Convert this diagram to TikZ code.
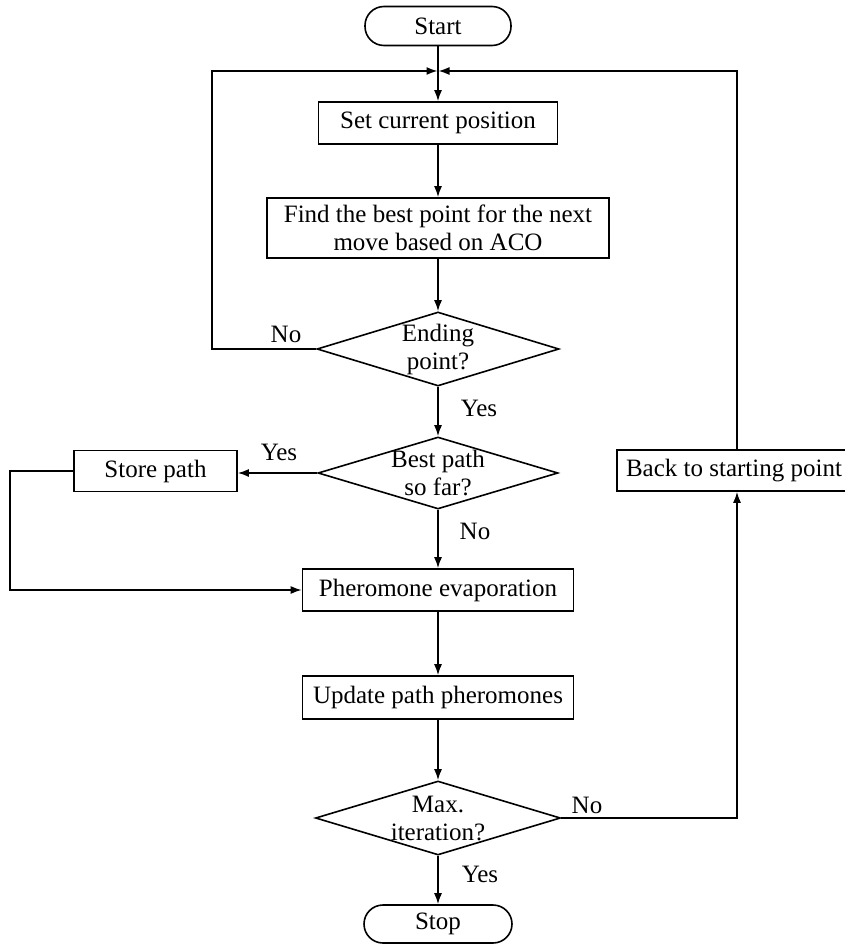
\documentclass[tikz,border=0pt]{standalone}
\usepackage{fontspec}
\setmainfont{Liberation Serif}
\usetikzlibrary{shapes.geometric,arrows.meta}
\begin{document}
\begin{tikzpicture}[x=1pt,y=-1pt,
  every node/.style={font=\fontsize{25}{28}\selectfont},
  arr/.style={line width=1.6pt,-{Latex[length=11pt,width=8pt]}},
  proc/.style={draw,line width=1.6pt,rectangle,inner sep=0pt,align=center},
  term/.style={draw,line width=1.6pt,rectangle,rounded corners=19pt,inner sep=0pt},
  dec/.style={draw,line width=1.6pt,diamond,inner sep=0pt},
  lbl/.style={inner sep=0pt}]
\useasboundingbox (0,0) rectangle (845,944);
\node[term,minimum width=146pt,minimum height=39pt] (start) at (438,26) {Start};
\coordinate (m) at (438,71);
\node[proc,minimum width=239pt,minimum height=42pt] (set) at (438,123) {Set current position};
\node[proc,minimum width=342pt,minimum height=60pt] (find) at (438,228) {Find the best point for the next\\move based on ACO};
\node[dec,minimum width=242pt,minimum height=74pt,label={[align=center]center:{Ending\\point?}}] (endp) at (438,349) {};
\node[dec,minimum width=240pt,minimum height=72pt,label={[align=center]center:{Best path\\so far?}}] (best) at (438,473) {};
\node[proc,minimum width=163pt,minimum height=41pt] (store) at (155.5,471) {Store path};
\node[proc,minimum width=271pt,minimum height=42pt] (pher) at (438,590) {Pheromone evaporation};
\node[proc,minimum width=271pt,minimum height=43pt] (upd) at (438,697.5) {Update path pheromones};
\node[dec,minimum width=245pt,minimum height=74pt,label={[align=center]center:{Max.\\iteration?}}] (maxd) at (438,818) {};
\node[term,minimum width=148pt,minimum height=38pt] (stop) at (438,924) {Stop};
\node[proc,minimum width=240pt,minimum height=41pt] (back) at (737,470.5) {\hspace*{-6pt}Back to starting point};

\draw[arr] (start.south) -- (set.north);
\draw[arr] (set.south) -- (find.north);
\draw[arr] (find.south) -- (endp.north);
\draw[arr] (endp.south) -- (best.north);
\draw[arr] (best.south) -- (pher.north);
\draw[arr] (best.west) -- (best.west -| store.east);
\draw[arr] (store.west) -- ++(-63,0) |- (pher.west);
\draw[arr] (pher.south) -- (upd.north);
\draw[arr] (upd.south) -- (maxd.north);
\draw[arr] (maxd.south) -- (stop.north);
\draw[arr] (endp.west) -- ++(-104,0) |- ([xshift=-0.5pt]m);
\draw[arr] (maxd.east) -| (back.south);
\draw[arr] (back.north) |- ([xshift=0.5pt]m);

\node[lbl] (l1) at (286,334) {No};
\node[lbl] (l2) at (479,408) {Yes};
\node[lbl] (l3) at (279,452) {Yes};
\node[lbl] (l4) at (475,531) {No};
\node[lbl] (l5) at (587,805) {No};
\node[lbl] (l6) at (480,874) {Yes};
\end{tikzpicture}
\end{document}
